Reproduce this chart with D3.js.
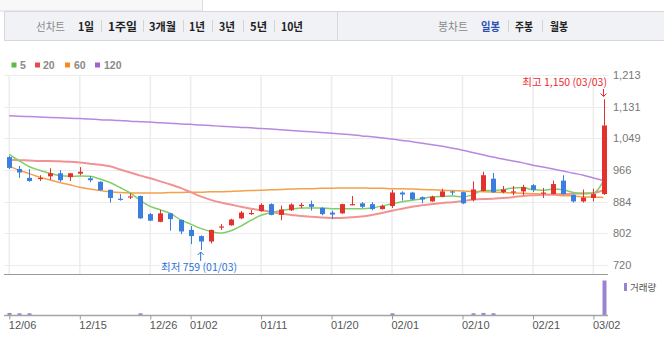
<!DOCTYPE html>
<html><head><meta charset="utf-8">
<script src="https://cdn.jsdelivr.net/npm/d3@7/dist/d3.min.js"></script>
<style>body{margin:0;background:#fff;}svg{display:block;}</style>
</head><body><svg id="c" width="664" height="342"></svg>
<script>
const dates = ["12/06","12/07","12/08","12/09","12/12","12/13","12/14","12/15","12/16","12/19",
"12/20","12/21","12/22","12/23","12/26","12/27","12/28","12/29","01/02","01/03",
"01/04","01/05","01/06","01/09","01/10","01/11","01/12","01/13","01/16","01/17",
"01/18","01/19","01/20","01/25","01/26","01/27","01/30","01/31","02/01","02/02",
"02/03","02/06","02/07","02/08","02/09","02/10","02/13","02/14","02/15","02/16",
"02/17","02/20","02/21","02/22","02/23","02/24","02/27","02/28","03/02","03/03"];
const opens = [1000,969,946,943,950,958,948,957,945,936, 915,892,896,899,852,832,854,837,811,795,
781,818,823,841,853,860,878,850,862,874, 878,868,856,854,876,880,878,865,873,908,
908,896,885,897,911,909,889,912,944,909, 909,911,927,906,904,939,902,885,894,904];
const highs = [1003,977,969,953,971,966,959,974,951,937, 916,904,906,900,855,863,855,838,821,797,
812,826,840,860,863,880,880,874,880,881, 887,870,861,879,899,883,883,877,915,911,
910,898,900,918,912,910,937,962,959,925, 925,928,930,920,939,953,903,916,918,1150];
const lows = [969,946,936,938,941,936,938,953,935,913, 882,887,891,840,834,831,809,800,774,759,
776,811,822,839,850,858,849,836,860,867, 861,849,839,853,875,868,862,864,868,887,
888,880,884,896,901,878,885,911,907,906, 901,901,909,894,903,903,882,882,885,902];
const closes = [972,960,938,946,958,940,958,962,940,914, 894,889,898,841,835,854,839,807,795,781,
811,820,838,856,855,876,850,864,877,876, 871,852,851,878,878,871,865,873,908,903,
890,890,897,911,908,880,916,953,909,916, 911,922,915,908,930,904,885,895,904,1082];
const volumes = [6,5,5,0,0,0,0,0,0,0, 0,0,0,5,0,0,0,0,0,0, 0,0,0,0,0,0,0,0,0,0,
0,0,0,0,0,0,0,0,5,0, 0,0,0,0,0,0,5,6,5,0, 0,0,0,0,0,0,0,0,0,100];
const ma5 = [1007,990,975,966,958,952,950,951,950,943, 934,921,907,888,872,863,854,837,826,815,
807,803,809,821,836,849,856,861,865,868, 868,868,866,866,866,866,868,873,879,884,
888,892,897,898,899,897,902,913,913,915, 920,921,915,914,917,915,908,905,906,938];
const ma20 = [993,992,991,990,990,989,988,986,983,980, 976,968,960,952,945,937,929,920,909,898,
889,882,877,871,866,862,858,853,850,847, 845,843,842,842,844,846,850,855,861,866,
871,875,878,881,883,886,889,891,892,894, 896,899,901,902,903,904,905,906,907,914];
const ma60 = [976,966,957,948,941,934,928,922,917,913, 910,908,907,907,907,907,908,908,909,909,
910,910,911,912,913,914,915,916,917,918, 918,919,919,920,920,920,919,919,918,918,
917,916,915,914,913,912,911,910,909,908, 907,906,905,904,902,900,899,897,896,895];
const ma120 = [1107,1106,1105,1104,1103,1102,1101,1100,1099,1097, 1096,1095,1093,1092,1091,1089,1088,1086,1085,1083,
1082,1080,1079,1077,1076,1074,1073,1071,1069,1067, 1066,1064,1062,1060,1058,1055,1053,1050,1047,1043,
1040,1036,1032,1028,1023,1018,1012,1006,1000,995, 990,985,979,974,969,964,958,953,946,939];
const xTickDates = ["12/06","12/15","12/26","01/02","01/11","01/20","02/01","02/10","02/21","03/02"];
const yTickValues = [720,802.17,884.33,966.5,1048.67,1130.83,1213];
const yTickLabels = ["720","802","884","966","1,049","1,131","1,213"];
const maNames = ["5","20","60","120"];
const maColors = ["#5dbb46","#e84a4a","#f58a1f","#a55fd2"];
const maLineColors = ["#7fcf68","#f29393","#f5a04a","#b888e0"];
const lineLabel = "선차트", lineItems = ["1일","1주일","3개월","1년","3년","5년","10년"];
const candleLabel = "봉차트", candleItems = ["일봉","주봉","월봉"];
const highNote = "최고 1,150 (03/03)", lowNote = "최저 759 (01/03)";
const volLabel = "거래량";

const svg = d3.select("#c");
const FONT = "'Liberation Sans','Noto Sans CJK KR',sans-serif";
const KFONT = "'Noto Sans CJK KR','Liberation Sans',sans-serif";

// top bar
svg.append("rect").attr("x",-1).attr("y",-1).attr("width",203.5).attr("height",12).attr("fill","#f8f8f9").attr("stroke","#dcdcdc");
svg.append("rect").attr("x",4.5).attr("y",11.5).attr("width",662).attr("height",29).attr("fill","#f1f2f6").attr("stroke","#d6d8de");
svg.append("line").attr("x1",337.5).attr("x2",337.5).attr("y1",11.5).attr("y2",40.5).attr("stroke","#d6d8de");
const lineX = [78,108,149,189,219,250,281], lineW=[16,29,27,16,16,17,22];
const candleX = [481,515,550], candleW=[19,18,18];
function tb(txt,x,w,color,weight){
  svg.append("text").attr("x",x).attr("y",30.5).attr("font-family",KFONT).attr("font-size",11.5)
    .attr("font-weight",weight).attr("fill",color).attr("textLength",w).attr("lengthAdjust","spacingAndGlyphs").text(txt);
}
tb(lineLabel,36,29,"#8a8a8a",400);
lineItems.forEach((t,i)=>{tb(t,lineX[i],lineW[i],"#222",700);
  if(i<lineItems.length-1){const sx=Math.round(lineX[i]+lineW[i]+(lineX[i+1]-lineX[i]-lineW[i])/2)+0.5;
  svg.append("line").attr("x1",sx).attr("x2",sx).attr("y1",20).attr("y2",32).attr("stroke","#d4d4d4");}});
tb(candleLabel,438,30,"#8a8a8a",400);
candleItems.forEach((t,i)=>{tb(t,candleX[i],candleW[i],i===0?"#2d53b0":"#222",700);
  if(i<candleItems.length-1){const sx=Math.round(candleX[i]+candleW[i]+(candleX[i+1]-candleX[i]-candleW[i])/2)+0.5;
  svg.append("line").attr("x1",sx).attr("x2",sx).attr("y1",20).attr("y2",32).attr("stroke","#d4d4d4");}});

// legend
const lg = svg.append("g");
const lgX=[11.5,35,65,95], lgTX=[20,43,74,104];
maNames.forEach((n,i)=>{
  lg.append("rect").attr("x",lgX[i]).attr("y",62.5).attr("width",5).attr("height",5).attr("fill",maColors[i]);
  lg.append("text").attr("x",lgTX[i]).attr("y",69).attr("font-family",FONT).attr("font-size",10.5).attr("font-weight",700).attr("fill","#8a8a8a").text(n);
});

// scales
const x = d3.scalePoint().domain(dates).range([9.3,603.5]);
const y = d3.scaleLinear().domain([720,1213]).range([265,75]);
const plotL=4, plotR=608, plotT=75, plotB=274.5;

// grids
svg.append("g").selectAll("line").data(yTickValues).join("line")
  .attr("x1",plotL).attr("x2",plotR).attr("y1",d=>Math.round(y(d))+0.5).attr("y2",d=>Math.round(y(d))+0.5)
  .attr("stroke","#ececec");
svg.append("g").selectAll("line").data(xTickDates).join("line")
  .attr("x1",d=>x(d)).attr("x2",d=>x(d)).attr("y1",plotT).attr("y2",plotB)
  .attr("stroke","#ededed").attr("stroke-width",1.6);

// y axis
const ya = svg.append("g").attr("transform","translate(611,0)")
  .call(d3.axisRight(y).tickValues(yTickValues).tickSize(0).tickPadding(2).tickFormat((d,i)=>yTickLabels[i]));
ya.select(".domain").remove();
ya.selectAll("text").attr("font-family",FONT).attr("font-size",11).attr("fill","#777");

// MA lines
const mas=[ma120,ma60,ma20,ma5], maCol=[maLineColors[3],maLineColors[2],maLineColors[1],maLineColors[0]], maW=[1.5,1.5,2,1.5];
mas.forEach((arr,k)=>{
  svg.append("path").datum(arr).attr("fill","none").attr("stroke",maCol[k]).attr("stroke-width",maW[k])
    .attr("d",d3.line().x((d,i)=>x(dates[i])).y(d=>y(d)).curve(d3.curveMonotoneX));
});

// candles
const RED="#e3322e", BLUE="#3b7ee0";
const cg = svg.append("g");
dates.forEach((d,i)=>{
  const up = closes[i]>=opens[i]; const col = up?RED:BLUE; const cx = Math.round(x(d))+0.5;
  cg.append("line").attr("x1",cx).attr("x2",cx).attr("y1",y(highs[i])).attr("y2",y(lows[i])).attr("stroke",col).attr("stroke-width",1);
  const top=y(Math.max(opens[i],closes[i])), bot=y(Math.min(opens[i],closes[i]));
  cg.append("rect").attr("x",cx-2.5).attr("y",top).attr("width",5).attr("height",Math.max(1.2,bot-top)).attr("fill",col);
});

// annotations
const hx = x("03/03"), lx = x("01/03");
svg.append("text").attr("x",607).attr("y",86).attr("text-anchor","end").attr("font-family",KFONT).attr("font-size",10.5).attr("fill","#ec2a2f").text(highNote);
svg.append("path").attr("d",`M${hx},89V96.5M${hx-3},93.5L${hx},96.5L${hx+3},93.5`).attr("stroke","#ec2a2f").attr("fill","none").attr("stroke-width",1);
svg.append("text").attr("x",161).attr("y",271).attr("font-family",KFONT).attr("font-size",10.5).attr("fill","#2f72d8").text(lowNote);
svg.append("path").attr("d",`M${lx},252V261M${lx-3},255L${lx},252L${lx+3},255`).attr("stroke","#2f72d8").attr("fill","none").attr("stroke-width",1);

// volume panel
svg.append("line").attr("x1",plotL).attr("x2",plotR).attr("y1",274.5).attr("y2",274.5).attr("stroke","#9a9a9a").attr("stroke-width",1.2);
const vy = d3.scaleLinear().domain([0,d3.max(volumes)]).range([315,280.5]);
svg.append("g").selectAll("rect").data(volumes.map((v,i)=>({v,i})).filter(o=>o.v>0)).join("rect")
  .attr("x",o=>Math.round(x(dates[o.i]))-1.5).attr("width",4)
  .attr("y",o=>vy(o.v)).attr("height",o=>315-vy(o.v)).attr("fill","#9b84cf");
svg.append("rect").attr("x",624).attr("y",283).attr("width",3).attr("height",8).attr("fill","#9b84cf");
svg.append("text").attr("x",630).attr("y",290.5).attr("font-family",KFONT).attr("font-size",9.5).attr("fill","#555").text(volLabel);

// x axis
const xa = svg.append("g").attr("transform","translate(0,315.5)")
  .call(d3.axisBottom(x).tickValues(xTickDates).tickSize(4).tickPadding(2));
xa.select(".domain").attr("d",`M${plotL},0H${plotR}`).attr("stroke","#a5a5a5").attr("stroke-width",1.3);
xa.selectAll(".tick line").attr("stroke","#999");
xa.selectAll("text").attr("text-anchor","start").attr("dx",-1).attr("font-family",FONT).attr("font-size",11).attr("fill","#555");
</script></body></html>
